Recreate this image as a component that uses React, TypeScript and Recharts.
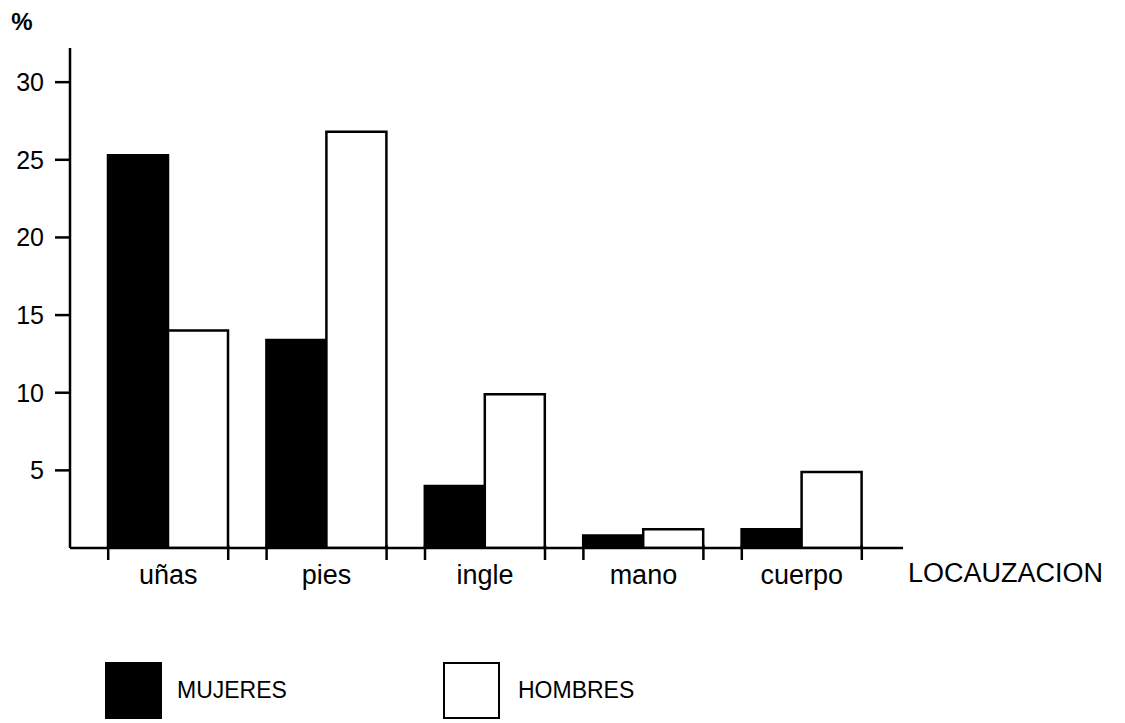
import React from "react";
import { BarChart, Bar, XAxis, YAxis } from "recharts";

const categories = ["uñas", "pies", "ingle", "mano", "cuerpo"];
const mujeres = [25.3, 13.4, 4.0, 0.8, 1.2];
const hombres = [14.0, 26.8, 9.9, 1.2, 4.9];
const yTicks = [5, 10, 15, 20, 25, 30];

const series = [
  { key: "mujeres", name: "MUJERES", fill: "#000" },
  { key: "hombres", name: "HOMBRES", fill: "#fff" },
];

const data = categories.map((c, i) => ({
  cat: c,
  mujeres: mujeres[i],
  hombres: hombres[i],
}));

const FONT = "'Liberation Sans', Arial, sans-serif";
const INK = "#000";
const HALF_GROUP = 60; // half of a bar pair, where the edge ticks sit

function XTick(props: any) {
  const { x, y, payload } = props;
  return (
    <g>
      <line x1={x - HALF_GROUP} x2={x - HALF_GROUP} y1={y - 3} y2={y + 12} stroke={INK} strokeWidth={2.5} />
      <line x1={x + HALF_GROUP} x2={x + HALF_GROUP} y1={y - 3} y2={y + 12} stroke={INK} strokeWidth={2.5} />
      <text x={x} y={y + 36} textAnchor="middle" fontSize={27} fontFamily={FONT} fill={INK}>
        {payload.value}
      </text>
    </g>
  );
}

function LegendBoxes() {
  const lefts = [105, 443];
  return (
    <div style={{ position: "absolute", left: 0, top: 662, width: 1125, height: 58 }}>
      {series.map((s, i) => (
        <div
          key={s.key}
          style={{ position: "absolute", left: lefts[i], top: 0, display: "flex", alignItems: "center" }}
        >
          <div
            style={{
              width: 57,
              height: 57,
              boxSizing: "border-box",
              background: s.fill,
              border: `2.5px solid ${INK}`,
            }}
          />
          <span style={{ marginLeft: i === 0 ? 15 : 18, fontFamily: FONT, fontSize: 23, color: INK }}>
            {s.name}
          </span>
        </div>
      ))}
    </div>
  );
}

export default function App() {
  return (
    <div style={{ position: "absolute", left: 0, top: 0, width: 1125, height: 723, background: "#fff" }}>
      <BarChart
        width={1125}
        height={723}
        data={data}
        margin={{ top: 48, right: 222, bottom: 125, left: 8 }}
        barCategoryGap={19}
        barGap={0}
      >
        <XAxis
          dataKey="cat"
          padding={{ left: 19, right: 22 }}
          axisLine={{ stroke: INK, strokeWidth: 2.5 }}
          tickLine={false}
          tickSize={0}
          tickMargin={0}
          height={50}
          tick={<XTick />}
          label={{
            value: "LOCAUZACION",
            position: "right",
            offset: 5,
            dy: -1,
            fontSize: 27,
            fontFamily: FONT,
            fill: INK,
          }}
        />
        <YAxis
          width={62}
          domain={[0, 32.2]}
          ticks={yTicks}
          allowDataOverflow
          axisLine={{ stroke: INK, strokeWidth: 2.5 }}
          tickLine={{ stroke: INK, strokeWidth: 2.5 }}
          tickSize={15}
          tickMargin={11}
          tick={{ fontSize: 25, fontFamily: FONT, fill: INK }}
          label={{
            value: "%",
            position: "top",
            offset: 18,
            dx: -17,
            fontSize: 24,
            fontWeight: "bold",
            fontFamily: FONT,
            fill: INK,
          }}
        />
        {series.map((s) => (
          <Bar
            key={s.key}
            dataKey={s.key}
            name={s.name}
            fill={s.fill}
            stroke={INK}
            strokeWidth={2.5}
            isAnimationActive={false}
          />
        ))}
      </BarChart>
      <LegendBoxes />
    </div>
  );
}
